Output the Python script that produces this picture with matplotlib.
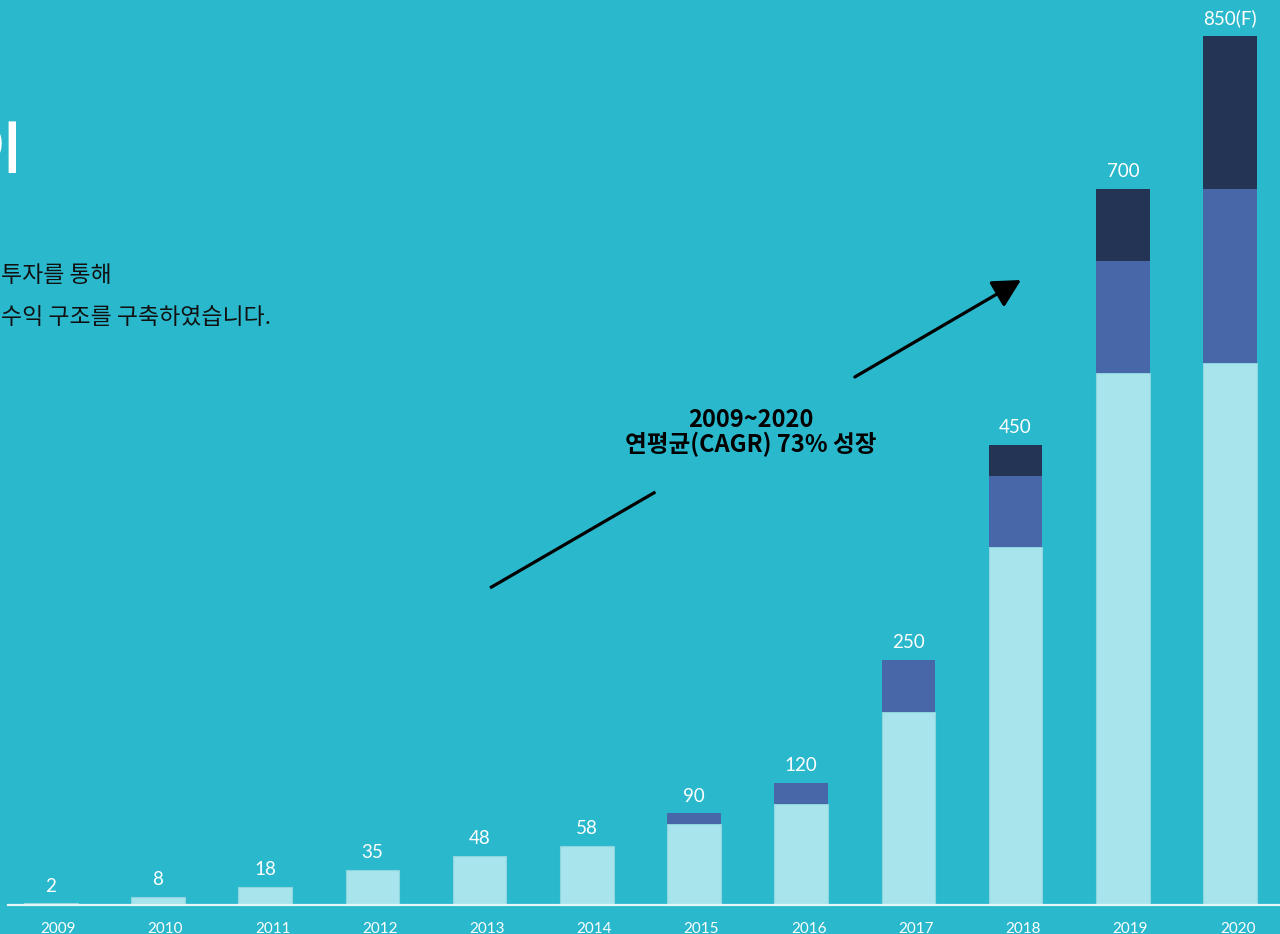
import matplotlib
matplotlib.use("Agg")
import matplotlib.pyplot as plt

# ---- data ----
years = ['2009', '2010', '2011', '2012', '2013', '2014',
         '2015', '2016', '2017', '2018', '2019', '2020']
value_labels = ['2', '8', '18', '35', '48', '58', '90', '120', '250', '450', '700', '850(F)']
seg_light = [2, 8, 18, 35, 48, 58, 80, 99, 189, 350, 520, 530]
seg_mid = [0, 0, 0, 0, 0, 0, 10, 21, 51, 70, 110, 170]
seg_dark = [0, 0, 0, 0, 0, 0, 0, 0, 0, 30, 70, 150]

title_frag = '이'
body_lines = ['투자를 통해', '수익 구조를 구축하였습니다.']
anno_line1 = '2009~2020'
anno_line2 = '연평균(CAGR) 73% 성장'

BG = '#2AB8CD'
C_LIGHT = '#A7E4EC'
C_MID = '#4767A9'
C_DARK = '#243455'

W, H = 1280, 934
fig = plt.figure(figsize=(W / 100, H / 100), dpi=100, facecolor=BG)
ax = fig.add_axes([0, 0, 1, 1])
ax.set_facecolor(BG)
ax.axis('off')
ax.set_xlim(-0.474, 11.466)
ax.set_ylim(-27.9, 885.1)

x = list(range(len(years)))
bw = 0.5
ax.bar(x, seg_light, width=bw, color=C_LIGHT, edgecolor='#8FD5E0', linewidth=0.8, zorder=2)
ax.bar(x, seg_mid, width=bw, bottom=seg_light, color=C_MID, linewidth=0, zorder=2)
bottom2 = [a + b for a, b in zip(seg_light, seg_mid)]
ax.bar(x, seg_dark, width=bw, bottom=bottom2, color=C_DARK, linewidth=0, zorder=2)
tops = [a + b for a, b in zip(bottom2, seg_dark)]

# baseline
ax.axhline(0, xmin=8 / W, xmax=1, color='#E6F7FA', linewidth=1.6, zorder=3)

num_font = ['Lato', 'Noto Sans CJK KR', 'DejaVu Sans']
for i, (t, lab) in enumerate(zip(tops, value_labels)):
    ax.annotate(lab, xy=(i, t), xytext=(0, 12.5), textcoords='offset points',
                ha='center', va='center', color='white', fontsize=13.5,
                family=num_font, fontweight='normal', zorder=4)
for i, y in enumerate(years):
    ax.text(i + 0.07, -23.5, y, ha='center', va='center', color='white',
            fontsize=11, family=num_font, fontweight='normal', zorder=4)

# growth arrow (two segments around the annotation text)
ax.plot([4.097, 5.64], [310.4, 404.2], color='black', linewidth=2.3,
        solid_capstyle='butt', zorder=4)
ax.annotate('', xy=(9.05, 611.4), xytext=(7.50, 516.6),
            arrowprops=dict(arrowstyle='-|>,head_length=0.85,head_width=0.45',
                            color='black', lw=2.3, shrinkA=0, shrinkB=0,
                            mutation_scale=20), zorder=4)

kfont = ['Noto Sans CJK KR', 'DejaVu Sans']
ax.text(6.53, 474.5, anno_line1, ha='center', va='center', color='black',
        fontsize=17, fontweight='bold', family=kfont, zorder=4)
ax.text(6.53, 450.5, anno_line2, ha='center', va='center', color='black',
        fontsize=17, fontweight='bold', family=kfont, zorder=4)

# left-side partial texts
fig.text(-30 / W, 1 - 168 / H, title_frag, ha='left', va='baseline', color='white',
         fontsize=40, fontweight='bold', family=kfont)
fig.text(1 / W, 1 - 275 / H, body_lines[0], ha='left', va='center', color='#111111',
         fontsize=16.5, family=kfont)
fig.text(1 / W, 1 - 318 / H, body_lines[1], ha='left', va='center', color='#111111',
         fontsize=16.5, family=kfont)

fig.savefig('out.png', dpi=100, facecolor=BG)
